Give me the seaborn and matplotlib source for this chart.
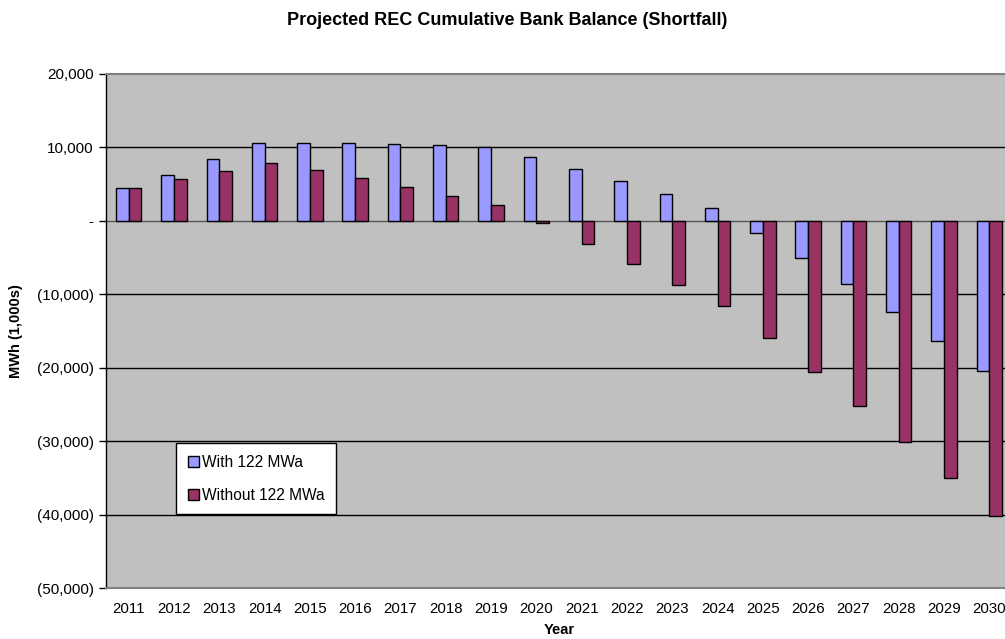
import matplotlib
matplotlib.use("Agg")
import matplotlib.pyplot as plt
import seaborn as sns
import pandas as pd
from matplotlib.ticker import FuncFormatter, FixedLocator

years = [str(y) for y in range(2011, 2031)]
with_122 = [4500, 6190, 8410, 10600, 10600, 10550, 10500, 10320, 10090, 8650,
            7090, 5410, 3640, 1770, -1590, -5050, -8640, -12410, -16320, -20410]
without_122 = [4500, 5690, 6820, 7910, 6860, 5780, 4600, 3410, 2140, -350,
               -3090, -5810, -8730, -11640, -16000, -20550, -25230, -30050, -35060, -40190]
series_names = ["With 122 MWa", "Without 122 MWa"]
series_colors = ["#9999FF", "#993366"]

df = pd.DataFrame({
    "Year": years * 2,
    "Value": with_122 + without_122,
    "Series": [series_names[0]] * len(years) + [series_names[1]] * len(years),
})

sns.set_theme(style="white")
plt.rcParams["font.family"] = ["Liberation Sans", "DejaVu Sans"]
plt.rcParams["text.color"] = "black"
plt.rcParams["axes.labelcolor"] = "black"
plt.rcParams["xtick.color"] = "black"
plt.rcParams["ytick.color"] = "black"

fig = plt.figure(figsize=(10.05, 6.39), dpi=100)
ax = fig.add_axes([0.1055, 0.0798, 0.9015, 0.8044])
ax.set_facecolor("#C0C0C0")

sns.barplot(data=df, x="Year", y="Value", hue="Series", palette=series_colors,
            width=0.56, edgecolor="black", linewidth=1.0, saturation=1,
            errorbar=None, ax=ax, zorder=3)

ax.set_xlim(-0.5, 19.5)
ax.set_ylim(-50000, 20000)
ax.yaxis.set_major_locator(FixedLocator(range(-50000, 20001, 10000)))


def fmt(v, pos):
    if abs(v) < 1e-6:
        return "-"
    if v < 0:
        return "({:,.0f})".format(-v)
    return "{:,.0f}".format(v)


ax.yaxis.set_major_formatter(FuncFormatter(fmt))
for yv in range(-40000, 20000, 10000):
    ax.axhline(yv, color="#555555" if yv == 0 else "black", lw=1.0, zorder=1)

ax.tick_params(axis="y", which="major", length=5, width=1, color="black",
               direction="out", labelsize=11, pad=4, left=True,
               labelcolor="black")
ax.tick_params(axis="x", length=0, labelsize=10.8, pad=10, labelcolor="black")

ax.spines["left"].set_color("black")
ax.spines["left"].set_linewidth(1.0)
for s in ("top", "bottom"):
    ax.spines[s].set_color("#808080")
    ax.spines[s].set_linewidth(1.5)
ax.spines["right"].set_visible(False)

ax.set_xlabel("Year", fontsize=10.5, fontweight="bold", labelpad=5, color="black")
ax.set_ylabel("MWh (1,000s)", fontsize=10.5, fontweight="bold", labelpad=10,
              color="black")

fig.text(0.505, 0.982, "Projected REC Cumulative Bank Balance (Shortfall)",
         ha="center", va="top", fontsize=13, fontweight="bold", color="black")

leg = ax.legend(loc="upper left", bbox_to_anchor=(0.0773, 0.282),
                borderaxespad=0, frameon=True, fancybox=False,
                fontsize=11.2, handlelength=0.7, handleheight=0.7,
                handletextpad=0.2, labelspacing=1.15, borderpad=0.75,
                edgecolor="black", facecolor="white", framealpha=1,
                labelcolor="black")
leg.get_frame().set_linewidth(1.0)
for h in leg.legend_handles:
    h.set_edgecolor("black")
    h.set_linewidth(1.0)

fig.savefig("out.png", dpi=100)
